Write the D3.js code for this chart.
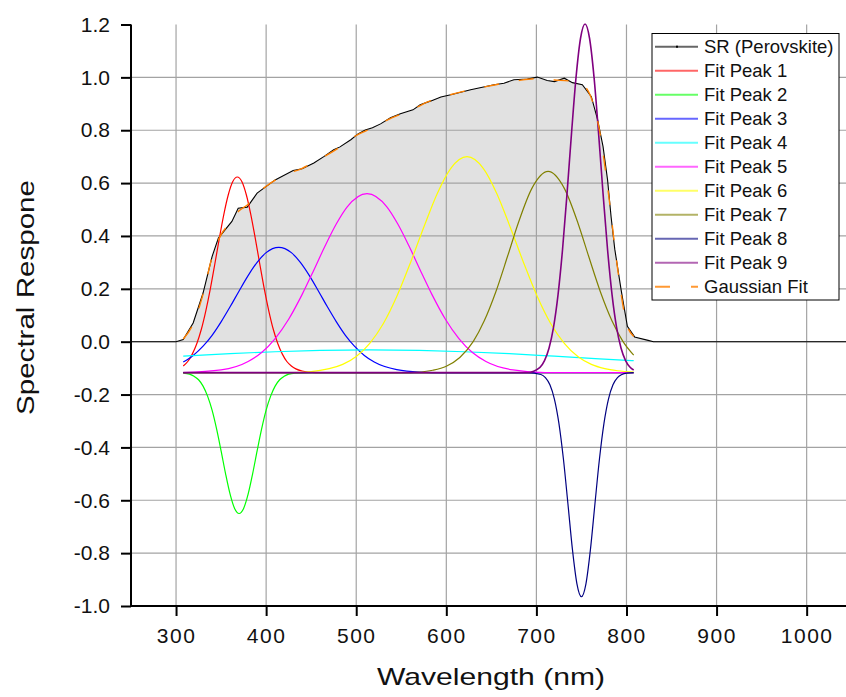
<!DOCTYPE html>
<html>
<head>
<meta charset="utf-8">
<script src="https://cdn.jsdelivr.net/npm/d3@7"></script>
<style>
  html, body { margin: 0; padding: 0; background: #fff; }
  svg { display: block; font-family: "Liberation Sans", Arial, sans-serif; }
</style>
</head>
<body>
<svg id="chart" width="846" height="697"></svg>
<script>
// ---------------- DATA ----------------
const xTicks = [300, 400, 500, 600, 700, 800, 900, 1000];
const yTicks = [-1.0, -0.8, -0.6, -0.4, -0.2, 0.0, 0.2, 0.4, 0.6, 0.8, 1.0, 1.2];
const xGrid = [300, 400, 500, 600, 700, 800, 900, 1000];
const yGrid = [-0.8, -0.6, -0.4, -0.2, 0.0, 0.2, 0.4, 0.6, 0.8, 1.0];

const legendLabels = ["SR (Perovskite)", "Fit Peak 1", "Fit Peak 2", "Fit Peak 3", "Fit Peak 4",
  "Fit Peak 5", "Fit Peak 6", "Fit Peak 7", "Fit Peak 8", "Fit Peak 9", "Gaussian Fit"];
const seriesColors = ["#000000", "#ff0000", "#00ff00", "#0000ff", "#00ffff",
  "#ff00ff", "#ffff00", "#808000", "#000080", "#800080", "#ff8000"];

// measured spectral response
const srWl = [250, 300, 308, 319, 330, 340, 347, 362, 369, 379, 390, 410, 430, 440, 453, 464, 475, 482, 494, 502, 510, 518, 527, 538, 549, 563, 571, 583, 594, 605, 627, 653, 664, 675, 690, 701, 712, 720, 731, 740, 751, 761, 768, 774, 779, 783, 787, 794, 801, 809, 824, 830, 1050];
const srVal = [0, 0, 0.008, 0.071, 0.184, 0.322, 0.392, 0.455, 0.505, 0.509, 0.562, 0.612, 0.648, 0.654, 0.676, 0.700, 0.726, 0.737, 0.764, 0.786, 0.801, 0.809, 0.824, 0.847, 0.862, 0.877, 0.896, 0.911, 0.926, 0.934, 0.953, 0.972, 0.978, 0.991, 0.994, 1.001, 0.988, 0.984, 0.997, 0.980, 0.972, 0.927, 0.839, 0.738, 0.612, 0.470, 0.350, 0.197, 0.058, 0.018, 0.005, 0, 0];

// cumulative gaussian fit
const fitWl = [308, 320, 330, 340, 350, 360, 370, 380, 390, 400, 420, 440, 460, 480, 500, 520, 540, 560, 580, 600, 620, 640, 660, 680, 700, 720, 740, 750, 760, 770, 780, 790, 800, 808];
const fitVal = [0.010, 0.075, 0.180, 0.320, 0.405, 0.450, 0.495, 0.520, 0.560, 0.588, 0.630, 0.656, 0.692, 0.732, 0.780, 0.812, 0.848, 0.874, 0.908, 0.930, 0.948, 0.962, 0.976, 0.988, 0.995, 0.990, 0.985, 0.975, 0.930, 0.800, 0.560, 0.280, 0.070, 0.020];

// fit peaks
const peak1Wl = [308, 313, 318, 323, 328, 333, 338, 343, 348, 353, 358, 363, 368, 373, 378, 383, 388, 393, 398, 403, 408, 413, 418, 423, 428, 433, 440, 455, 808];
const peak1Val = [-0.092, -0.075, -0.047, -0.008, 0.046, 0.116, 0.199, 0.293, 0.390, 0.481, 0.556, 0.606, 0.623, 0.606, 0.556, 0.481, 0.390, 0.293, 0.199, 0.116, 0.046, -0.008, -0.047, -0.075, -0.092, -0.103, -0.111, -0.117, -0.117];

const peak2Wl = [308, 315, 320, 325, 330, 335, 340, 345, 350, 355, 360, 365, 370, 375, 380, 385, 390, 395, 400, 405, 410, 415, 420, 425, 432, 450, 808];
const peak2Val = [-0.119, -0.123, -0.131, -0.144, -0.168, -0.206, -0.259, -0.330, -0.413, -0.500, -0.577, -0.631, -0.650, -0.631, -0.577, -0.500, -0.413, -0.330, -0.259, -0.206, -0.168, -0.144, -0.131, -0.123, -0.119, -0.117, -0.117];

const peak3Wl = [308, 319, 330, 340, 350, 360, 370, 380, 390, 400, 414, 428, 438, 448, 458, 468, 478, 488, 498, 509, 520, 545, 570, 600, 808];
const peak3Val = [-0.077, -0.052, -0.017, 0.024, 0.075, 0.132, 0.192, 0.250, 0.300, 0.337, 0.357, 0.337, 0.300, 0.250, 0.192, 0.132, 0.075, 0.024, -0.017, -0.052, -0.077, -0.106, -0.115, -0.117, -0.117];

const peak4Wl = [308, 360, 410, 460, 515, 570, 620, 670, 720, 770, 808];
const peak4Val = [-0.055, -0.045, -0.038, -0.033, -0.031, -0.033, -0.038, -0.045, -0.055, -0.065, -0.072];

const peak5Wl = [308, 350, 380, 395, 410, 425, 440, 452, 465, 478, 490, 512, 534, 546, 559, 572, 584, 599, 614, 629, 644, 674, 710, 808];
const peak5Val = [-0.117, -0.107, -0.075, -0.041, 0.012, 0.085, 0.179, 0.264, 0.359, 0.446, 0.510, 0.560, 0.510, 0.446, 0.359, 0.264, 0.179, 0.085, 0.012, -0.041, -0.075, -0.107, -0.117, -0.117];

const peak6Wl = [308, 430, 470, 485, 500, 515, 530, 545, 560, 575, 590, 605, 623, 641, 656, 671, 686, 701, 716, 731, 746, 761, 776, 790, 808];
const peak6Val = [-0.117, -0.117, -0.102, -0.086, -0.056, -0.006, 0.068, 0.171, 0.297, 0.433, 0.561, 0.656, 0.700, 0.656, 0.561, 0.433, 0.297, 0.171, 0.068, -0.006, -0.056, -0.086, -0.102, -0.110, -0.115];

const peak7Wl = [308, 560, 585, 600, 615, 630, 642, 655, 668, 680, 695, 713, 731, 746, 758, 771, 784, 796, 808];
const peak7Val = [-0.117, -0.117, -0.108, -0.093, -0.060, 0.001, 0.078, 0.189, 0.323, 0.450, 0.580, 0.644, 0.580, 0.450, 0.323, 0.189, 0.078, 0.001, -0.051];

const peak8Wl = [308, 690, 705, 710, 715, 720, 725, 730, 735, 740, 745, 750, 755, 760, 765, 770, 775, 780, 785, 790, 795, 800, 808];
const peak8Val = [-0.117, -0.117, -0.124, -0.136, -0.163, -0.217, -0.309, -0.444, -0.613, -0.786, -0.916, -0.965, -0.916, -0.786, -0.613, -0.444, -0.309, -0.217, -0.163, -0.136, -0.124, -0.119, -0.117];

const peak9Wl = [308, 690, 704, 709, 714, 719, 724, 729, 734, 739, 744, 749, 754, 759, 764, 769, 774, 779, 784, 789, 794, 799, 804, 808];
const peak9Val = [-0.117, -0.117, -0.097, -0.072, -0.025, 0.054, 0.177, 0.348, 0.560, 0.789, 1.000, 1.148, 1.202, 1.148, 1.000, 0.789, 0.560, 0.348, 0.177, 0.054, -0.025, -0.072, -0.097, -0.107];

// ---------------- CHART ----------------
const svg = d3.select("#chart");
const x = d3.scaleLinear().domain([250, 1050]).range([131, 851.7]);
const y = d3.scaleLinear().domain([-1, 1.2]).range([606, 24.5]);
const plotLeft = 131, plotRight = 846, plotTop = 24.5, plotBottom = 606;

svg.append("defs").append("clipPath").attr("id", "clip")
  .append("rect").attr("x", plotLeft).attr("y", plotTop - 2)
  .attr("width", plotRight - plotLeft).attr("height", plotBottom - plotTop + 2);

const zip = (a, b) => a.map((v, i) => [v, b[i]]);
const srData = zip(srWl, srVal);

// area under SR
svg.append("path")
  .datum(srData)
  .attr("clip-path", "url(#clip)")
  .attr("fill", "#e1e1e1")
  .attr("d", d3.area().x(d => x(d[0])).y0(y(0)).y1(d => y(d[1])));

// grid
const grid = svg.append("g").attr("stroke", "#a3a3a3").attr("stroke-width", 1.2);
grid.selectAll("line.v").data(xGrid).join("line")
  .attr("x1", d => x(d)).attr("x2", d => x(d))
  .attr("y1", plotTop).attr("y2", plotBottom);
grid.selectAll("line.h").data(yGrid).join("line")
  .attr("x1", plotLeft).attr("x2", plotRight)
  .attr("y1", d => y(d)).attr("y2", d => y(d));

const line = d3.line().x(d => x(d[0])).y(d => y(d[1])).curve(d3.curveMonotoneX);
const lines = svg.append("g").attr("clip-path", "url(#clip)").attr("fill", "none");

// SR data
lines.append("path").datum(srData)
  .attr("stroke", seriesColors[0]).attr("stroke-width", 1.1)
  .attr("d", d3.line().x(d => x(d[0])).y(d => y(d[1])));

const peaks = [
  [peak1Wl, peak1Val], [peak2Wl, peak2Val], [peak3Wl, peak3Val], [peak4Wl, peak4Val],
  [peak5Wl, peak5Val], [peak6Wl, peak6Val], [peak7Wl, peak7Val], [peak8Wl, peak8Val],
  [peak9Wl, peak9Val]
];
peaks.forEach((p, i) => {
  lines.append("path").datum(zip(p[0], p[1]))
    .attr("stroke", seriesColors[i + 1]).attr("stroke-width", i === 8 ? 1.6 : 1.2)
    .attr("d", line);
});

// gaussian fit (dashed)
lines.append("path").datum(zip(fitWl, fitVal))
  .attr("stroke", seriesColors[10]).attr("stroke-width", 1.4)
  .attr("stroke-dasharray", "15,20")
  .attr("d", line);

// axes
const fmt = d => d.toFixed(1);
const yAxis = svg.append("g").attr("transform", `translate(${plotLeft},0)`)
  .call(d3.axisLeft(y).tickValues(yTicks).tickFormat(fmt).tickSize(10).tickSizeOuter(0).tickPadding(11));
const xAxis = svg.append("g").attr("transform", `translate(0,${plotBottom})`)
  .call(d3.axisBottom(x).tickValues(xTicks).tickFormat(d => String(d)).tickSize(10).tickSizeOuter(0).tickPadding(12));

[yAxis, xAxis].forEach(a => {
  a.select(".domain").attr("stroke", "#000").attr("stroke-width", 2);
  a.selectAll(".tick line").attr("stroke", "#000").attr("stroke-width", 2);
  a.selectAll(".tick text").attr("fill", "#111")
    .style("font-size", "21px").style("font-family", "'Liberation Sans', Arial, sans-serif");
});
xAxis.select(".domain").attr("d", `M${plotLeft - 1},0H${plotRight}`);
yAxis.select(".domain").attr("d", `M0,${plotBottom}V${plotTop}`);
xAxis.selectAll(".tick text").style("letter-spacing", "1.5px");

// axis titles
svg.append("text")
  .attr("x", 491).attr("y", 685)
  .attr("text-anchor", "middle")
  .attr("textLength", 228).attr("lengthAdjust", "spacingAndGlyphs")
  .style("font-size", "24px").attr("fill", "#111")
  .text("Wavelength (nm)");
svg.append("text")
  .attr("transform", "translate(34,297.5) rotate(-90)")
  .attr("text-anchor", "middle")
  .attr("textLength", 235).attr("lengthAdjust", "spacingAndGlyphs")
  .style("font-size", "23px").attr("fill", "#111")
  .text("Spectral Respone");

// legend
const lg = svg.append("g");
lg.append("rect").attr("x", 652).attr("y", 33.5).attr("width", 187).attr("height", 266.5)
  .attr("fill", "#fff").attr("stroke", "#000").attr("stroke-width", 1);
legendLabels.forEach((lab, i) => {
  const yy = 46.7 + i * 24;
  const l = lg.append("line").attr("x1", 655).attr("x2", 698).attr("y1", yy).attr("y2", yy)
    .attr("stroke", seriesColors[i]).attr("stroke-width", 2).attr("stroke-opacity", 0.6);
  if (i === legendLabels.length - 1) l.attr("stroke-dasharray", "15,21").attr("stroke-opacity", 0.8);
  if (i === 0) {
    lg.append("rect").attr("x", 676).attr("y", yy - 1).attr("width", 2).attr("height", 2).attr("fill", "#000");
  }
  lg.append("text").attr("x", 704).attr("y", yy).attr("dy", "0.36em")
    .style("font-size", "18.5px").attr("fill", "#111").text(lab);
});
</script>
</body>
</html>
